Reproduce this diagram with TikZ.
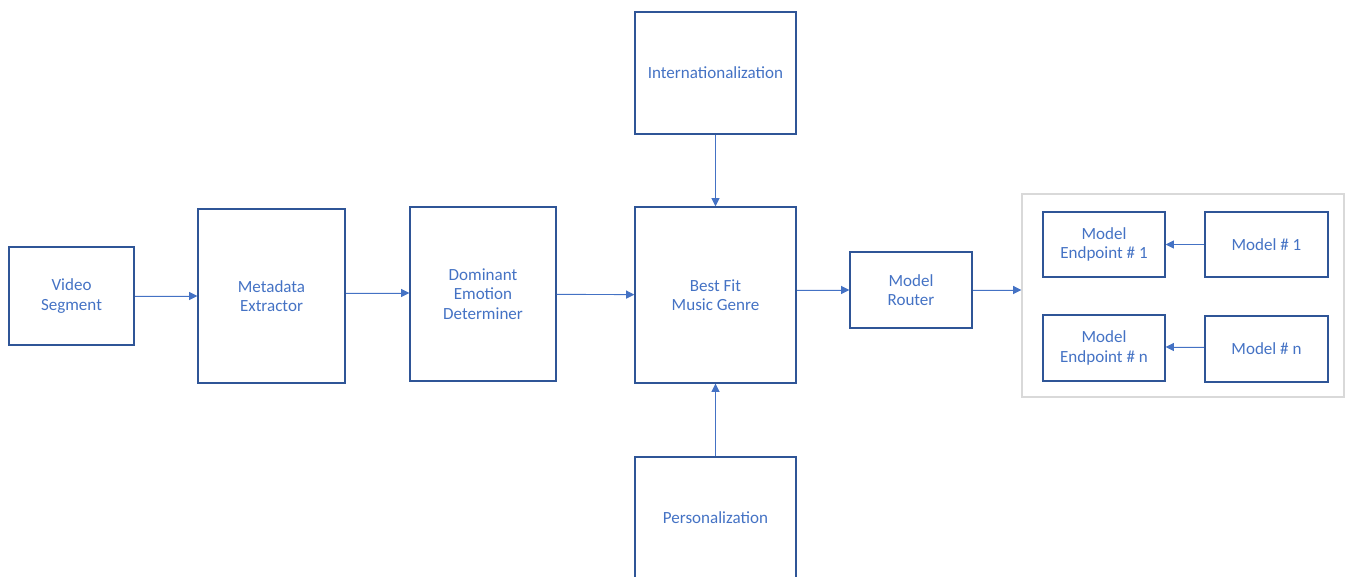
\documentclass[tikz,border=0pt]{standalone}
\usepackage{fontspec}
\setmainfont{Carlito}
\usetikzlibrary{arrows.meta}
\definecolor{boxblue}{HTML}{2F5597}
\definecolor{textblue}{HTML}{4472C4}
\definecolor{groupgray}{HTML}{D9D9D9}

\begin{document}
\begin{tikzpicture}[x=0.02cm,y=-0.02cm,
	block/.style={draw=boxblue,line width=0.85pt,text=textblue,align=center,font=\fontsize{9.7}{11}\selectfont,inner sep=0pt},
	flow/.style={-{Triangle[length=4.6pt,width=4.6pt]},draw=textblue,fill=textblue,line width=0.5pt}]
	\useasboundingbox (0,0) rectangle (1347,577);
	% main chain
	\node[block,minimum width=2.5cm,minimum height=1.96cm] (video) at (71.5,296) {Video\\Segment};
	\node[block,minimum width=2.94cm,minimum height=3.48cm] (meta) at (271.5,296) {Metadata\\Extractor};
	\node[block,minimum width=2.92cm,minimum height=3.48cm] (emotion) at (483,294) {Dominant\\Emotion\\Determiner};
	\node[block,minimum width=3.22cm,minimum height=3.52cm] (genre) at (715.5,295) {Best Fit\\Music Genre};
	\node[block,minimum width=3.22cm,minimum height=2.44cm] (intl) at (715.5,73) {Internationalization};
	\node[block,minimum width=3.22cm,minimum height=2.44cm] (perso) at (715.5,518) {Personalization};
	\node[block,minimum width=2.44cm,minimum height=1.52cm] (router) at (911,290) {Model\\Router};
	% model group
	\node[draw=groupgray,line width=0.85pt,minimum width=6.44cm,minimum height=4.06cm] (group) at (1183,295.5) {};
	\node[block,minimum width=2.44cm,minimum height=1.3cm] (end1) at (1104,244.5) {Model\\Endpoint \# 1};
	\node[block,minimum width=2.46cm,minimum height=1.3cm] (model1) at (1266.5,244.5) {Model \# 1};
	\node[block,minimum width=2.44cm,minimum height=1.32cm] (endn) at (1104,348) {Model\\Endpoint \# n};
	\node[block,minimum width=2.46cm,minimum height=1.32cm] (modeln) at (1266.5,349) {Model \# n};
	% connectors
	\draw[flow] (video.east |- 0,296) -- (meta.west |- 0,296);
	\draw[flow] (meta.east |- 0,293) -- (emotion.west |- 0,293);
	\draw[flow] (emotion) -- (genre);
	\draw[flow] (intl) -- (genre);
	\draw[flow] (perso) -- (genre);
	\draw[flow] (genre.east |- 0,290) -- (router.west);
	\draw[flow] (router.east) -- (group.west |- router.east);
	\draw[flow] (model1) -- (end1);
	\draw[flow] (modeln.west |- 0,347) -- (endn.east |- 0,347);
\end{tikzpicture}
\end{document}
